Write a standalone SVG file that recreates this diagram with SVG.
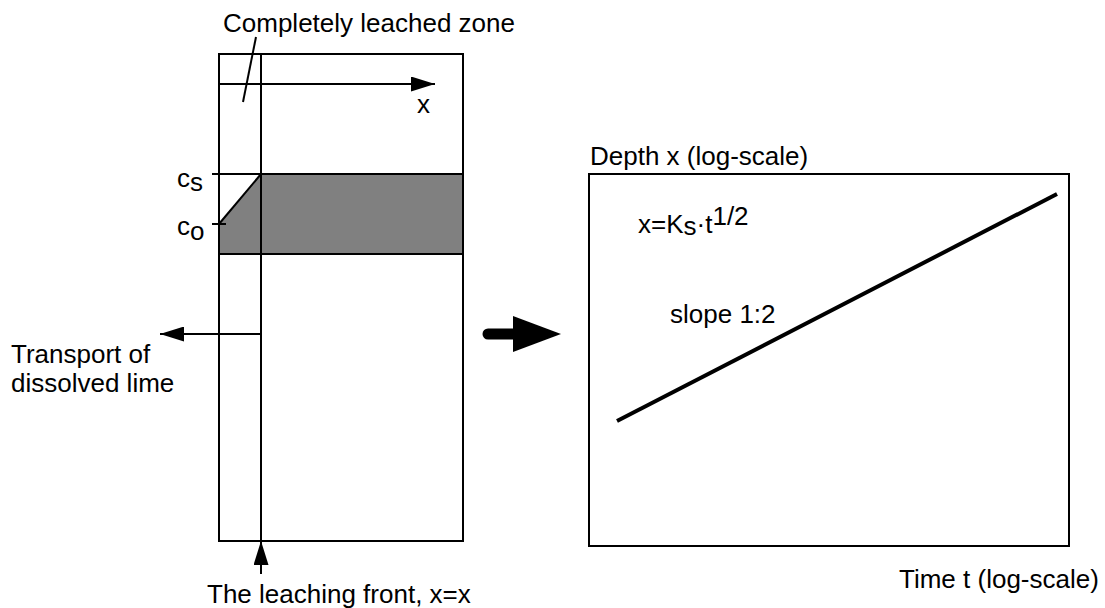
<svg xmlns="http://www.w3.org/2000/svg" width="1105" height="608" viewBox="0 0 1105 608">
<style>
text{font-family:"Liberation Sans",Arial,sans-serif;font-size:26px;fill:#000}
.ln{stroke:#000;stroke-width:2;fill:none}
</style>
<defs>
<marker id="ah" markerWidth="24" markerHeight="15" refX="24" refY="7.5" orient="auto" markerUnits="userSpaceOnUse" viewBox="0 0 24 15"><path d="M0,0 L24,7.5 L0,15 z" fill="#000"/></marker>
</defs>
<rect width="1105" height="608" fill="#fff"/>
<g id="specimen">
<polygon points="219,224 261,174 463,174 463,254 219,254" fill="#808080"/>
<line x1="212" y1="174" x2="463" y2="174" class="ln"/>
<line x1="219" y1="254" x2="463" y2="254" class="ln"/>
<line x1="212" y1="224" x2="226" y2="224" class="ln"/>
<line x1="219" y1="224" x2="261" y2="174" class="ln"/>
<rect x="219" y="54" width="244" height="487" class="ln"/>
<line x1="261" y1="54" x2="261" y2="541" class="ln"/>
<text x="177" y="187">c<tspan dy="4">s</tspan></text>
<text x="177" y="235">c<tspan dy="5">o</tspan></text>
</g>
<g id="zone-label">
<text x="223" y="32">Completely leached zone</text>
</g>
<g id="x-axis-label">
<text x="417" y="113">x</text>
</g>
<g id="transport-label">
<text x="11" y="363">Transport of</text>
<text x="11" y="392">dissolved lime</text>
</g>
<g id="front-label">
<text x="207" y="603">The leaching front, x=x</text>
</g>
<g id="plot">
<rect x="589" y="174" width="480" height="372" class="ln"/>
<line x1="617" y1="421" x2="1057" y2="194" stroke="#000" stroke-width="4"/>
<text x="590" y="165">Depth x (log-scale)</text>
<text x="638" y="233">x=K<tspan dy="2">s</tspan><tspan dy="-2">·t</tspan><tspan dy="-8">1/2</tspan></text>
<text x="670" y="323">slope 1:2</text>
<text x="899" y="588">Time t (log-scale)</text>
</g>
<g id="connectors">
<line x1="256" y1="37" x2="243" y2="102" class="ln"/>
<line x1="219" y1="84" x2="435" y2="84" class="ln" marker-end="url(#ah)"/>
<line x1="261" y1="334" x2="160" y2="334" class="ln" marker-end="url(#ah)"/>
<line x1="261" y1="574" x2="261" y2="541" class="ln" marker-end="url(#ah)"/>
<line x1="488" y1="334" x2="515" y2="334" stroke="#000" stroke-width="11" stroke-linecap="round"/>
<polygon points="513,316 561,334 513,352" fill="#000"/>
</g>
</svg>
